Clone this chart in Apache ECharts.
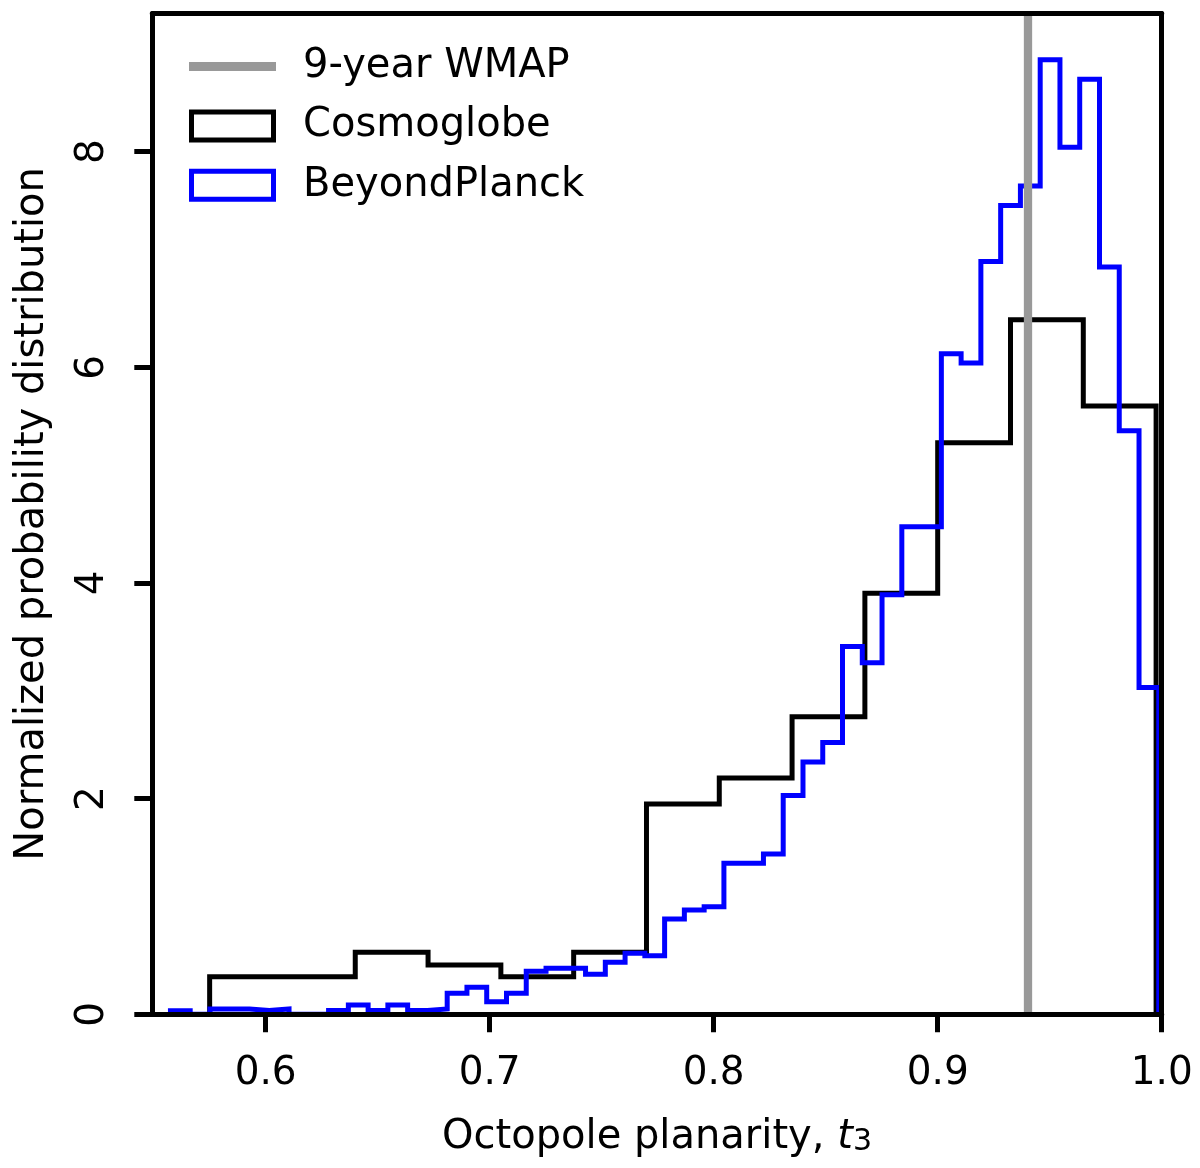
<!DOCTYPE html>
<html>
<head>
<meta charset="utf-8">
<script src="https://cdn.jsdelivr.net/npm/echarts@6/dist/echarts.min.js"></script>
<style>
html,body{margin:0;padding:0;background:#fff;}
#chart{width:1200px;height:1168px;}
</style>
</head>
<body>
<div id="chart"></div>
<script>
// ---- data ----
const xTicks = [0.6, 0.7, 0.8, 0.9, 1.0];
const yTicks = [0, 2, 4, 6, 8];
const X_MIN = 0.5494, X_MAX = 1.0;
const Y_MIN = 0, Y_MAX = 9.28;

const wmapT3 = 0.94;

// Cosmoglobe histogram: bin edges and normalized densities
const cosmoglobeEdges = [0.575, 0.6075, 0.64, 0.6725, 0.705, 0.7375, 0.77, 0.8025, 0.835, 0.8675, 0.9, 0.9325, 0.965, 0.9975];
const cosmoglobeValues = [0.348, 0.348, 0.575, 0.457, 0.349, 0.575, 1.95, 2.19, 2.76, 3.905, 5.30, 6.44, 5.64];

// BeyondPlanck histogram: bin edges and normalized densities
const beyondPlanckEdges = [
  0.5575, 0.56632, 0.57515, 0.58397, 0.5928, 0.60162, 0.61044, 0.61927, 0.62809, 0.63692,
  0.64574, 0.65456, 0.66339, 0.67221, 0.68104, 0.68986, 0.69868, 0.70751, 0.71633, 0.72516,
  0.73398, 0.7428, 0.75163, 0.76045, 0.76928, 0.7781, 0.78692, 0.79575, 0.80457, 0.8134,
  0.82222, 0.83104, 0.83987, 0.84869, 0.85752, 0.86634, 0.87516, 0.88399, 0.89281, 0.90164,
  0.91046, 0.91928, 0.92811, 0.93693, 0.94576, 0.95458, 0.9634, 0.97223, 0.98105, 0.98988,
  0.9987
];
const beyondPlanckValues = [
  0.033, 0.0, 0.05, 0.05, 0.035, 0.05, 0.0, 0.0, 0.035, 0.086,
  0.035, 0.086, 0.035, 0.05, 0.195, 0.25, 0.117, 0.195, 0.40, 0.427,
  0.427, 0.371, 0.482, 0.566, 0.544, 0.884, 0.967, 0.998, 1.40, 1.40,
  1.487, 2.03, 2.34, 2.52, 3.41, 3.26, 3.89, 4.52, 4.52, 6.125,
  6.04, 6.98, 7.50, 7.68, 8.85, 8.04, 8.67, 6.93, 5.41, 3.03
];

const seriesNames = ['9-year WMAP', 'Cosmoglobe', 'BeyondPlanck'];
const xTitle = '{n|Octopole planarity, }{t|t}{s|3}';
const yTitle = 'Normalized probability distribution';

// ---- build step outlines (matplotlib histtype="step") ----
function stepOutline(edges, values) {
  const pts = [[edges[0], 0]];
  for (let i = 0; i < values.length; i++) {
    pts.push([edges[i], values[i]]);
    pts.push([edges[i + 1], values[i]]);
  }
  pts.push([edges[edges.length - 1], 0]);
  return pts;
}

const FONT = 'DejaVu Sans';
const chart = echarts.init(document.getElementById('chart'), null, {renderer: 'canvas'});

const spineStyle = {color: '#000', width: 5};
const lineIcon = 'path://M0,0 M109,33 M0,12 L87,12 L87,21 L0,21 Z';
const rectIcon = 'path://M0,0 M109,33 M2.5,2.5 L84.5,2.5 L84.5,30.5 L2.5,30.5 Z';

const option = {
  animation: false,
  backgroundColor: '#fff',
  grid: {left: 152.3, right: 38.3, top: 13.5, bottom: 153.7, containLabel: false, outerBoundsMode: 'none'},
  legend: {
    orient: 'vertical', left: 186.5, top: 46.5, padding: 0, itemGap: 19.4,
    itemWidth: 109, itemHeight: 33, selectedMode: false,
    textStyle: {fontSize: 40, fontFamily: FONT, color: '#000', padding: [5, 0, 0, 0]},
    data: [
      {name: seriesNames[0], icon: lineIcon, itemStyle: {color: '#999999', borderWidth: 0}},
      {name: seriesNames[1], icon: rectIcon, itemStyle: {color: 'rgba(255,255,255,0)', borderColor: '#000000', borderWidth: 5}},
      {name: seriesNames[2], icon: rectIcon, itemStyle: {color: 'rgba(255,255,255,0)', borderColor: '#0000ff', borderWidth: 5}}
    ]
  },
  xAxis: [
    {
      type: 'value', min: X_MIN, max: X_MAX, position: 'bottom', z: 10,
      axisLine: {show: true, onZero: false, lineStyle: spineStyle},
      axisTick: {show: true, inside: false, length: 18, customValues: xTicks, lineStyle: spineStyle},
      axisLabel: {show: true, customValues: xTicks, margin: 40, fontSize: 39, fontFamily: FONT, color: '#000',
                  formatter: v => v.toFixed(1)},
      splitLine: {show: false},
      name: xTitle, nameLocation: 'middle', nameGap: 103, nameMoveOverlap: false,
      nameTextStyle: {
        color: '#000', fontFamily: FONT, fontSize: 40,
        rich: {
          n: {fontSize: 40, fontFamily: FONT, color: '#000'},
          t: {fontSize: 40, fontFamily: FONT, fontStyle: 'italic', color: '#000'},
          s: {fontSize: 30, fontFamily: FONT, color: '#000', lineHeight: 4, verticalAlign: 'bottom'}
        }
      }
    },
    {
      type: 'value', min: X_MIN, max: X_MAX, position: 'top', z: 10,
      axisLine: {show: true, onZero: false, lineStyle: spineStyle},
      axisTick: {show: false}, axisLabel: {show: false}, splitLine: {show: false}
    }
  ],
  yAxis: [
    {
      type: 'value', min: Y_MIN, max: Y_MAX, position: 'left', z: 10,
      axisLine: {show: true, onZero: false, lineStyle: spineStyle},
      axisTick: {show: true, inside: false, length: 18, customValues: yTicks, lineStyle: spineStyle},
      axisLabel: {show: true, customValues: yTicks, rotate: 90, margin: 40, fontSize: 39, fontFamily: FONT, color: '#000'},
      splitLine: {show: false},
      name: yTitle, nameLocation: 'middle', nameGap: 100, nameMoveOverlap: false,
      nameTextStyle: {color: '#000', fontFamily: FONT, fontSize: 40}
    },
    {
      type: 'value', min: Y_MIN, max: Y_MAX, position: 'right', z: 10,
      axisLine: {show: true, onZero: false, lineStyle: spineStyle},
      axisTick: {show: false}, axisLabel: {show: false}, splitLine: {show: false}
    }
  ],
  series: [
    {
      name: seriesNames[1], type: 'line', xAxisIndex: 0, yAxisIndex: 0, z: 2,
      data: stepOutline(cosmoglobeEdges, cosmoglobeValues),
      symbol: 'none', showSymbol: false, silent: true,
      lineStyle: {color: '#000000', width: 5, join: 'miter', cap: 'butt'},
      itemStyle: {color: '#000000'}
    },
    {
      name: seriesNames[2], type: 'line', xAxisIndex: 0, yAxisIndex: 0, z: 3,
      data: stepOutline(beyondPlanckEdges, beyondPlanckValues),
      symbol: 'none', showSymbol: false, silent: true,
      lineStyle: {color: '#0000ff', width: 5, join: 'miter', cap: 'butt'},
      itemStyle: {color: '#0000ff'}
    },
    {
      name: seriesNames[0], type: 'line', xAxisIndex: 0, yAxisIndex: 0, z: 5,
      data: [], symbol: 'none', silent: true,
      itemStyle: {color: '#999999'},
      lineStyle: {color: '#999999', width: 8.3},
      markLine: {
        silent: true, symbol: ['none', 'none'], animation: false,
        label: {show: false},
        lineStyle: {color: '#999999', width: 8.3, type: 'solid'},
        emphasis: {disabled: true},
        data: [{xAxis: wmapT3}]
      }
    }
  ]
};
chart.setOption(option);
</script>
</body>
</html>
